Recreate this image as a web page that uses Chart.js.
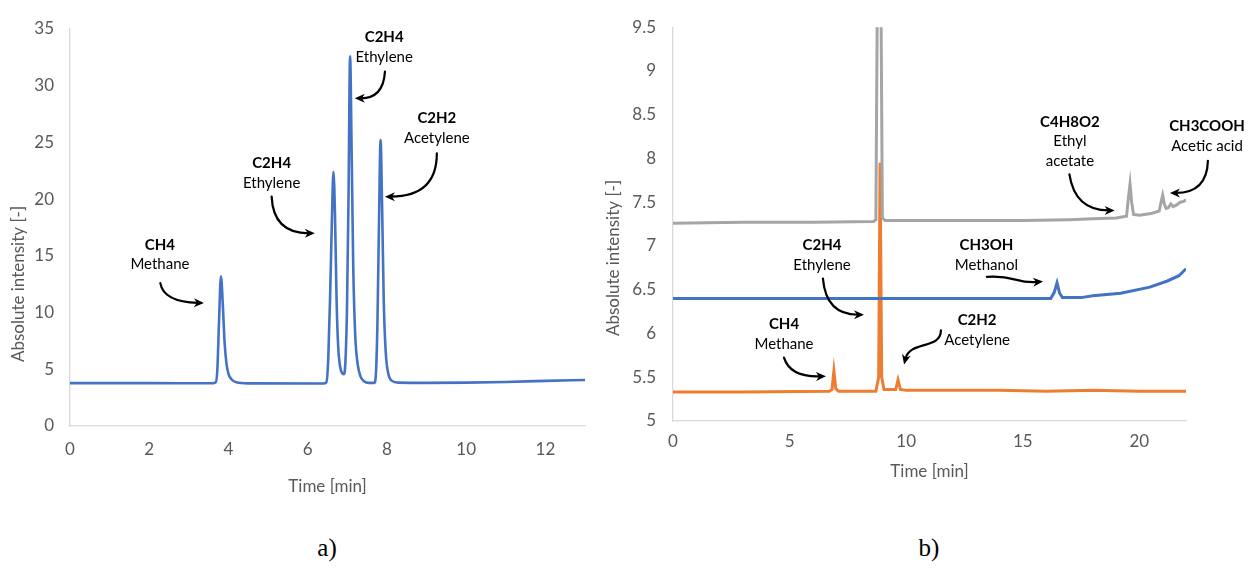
<!DOCTYPE html>
<html>
<head>
<meta charset="utf-8">
<script src="https://cdn.jsdelivr.net/npm/chart.js@4"></script>
<style>
  body { margin: 0; background: #fff; width: 1249px; height: 570px; position: relative; overflow: hidden; }
  canvas { position: absolute; top: 0; }
  #chartA { left: 0; }
  #chartB { left: 600px; }
  .cap { position: absolute; top: 534px; font-family: "Liberation Serif", serif; font-size: 25px; transform: translateX(-50%); color: #000; }
</style>
</head>
<body>
<canvas id="chartA" width="600" height="500"></canvas>
<canvas id="chartB" width="649" height="500"></canvas>
<div class="cap" style="left:327px">a)</div>
<div class="cap" style="left:929px">b)</div>
<script>
// panel a) - gas sample, time [min] vs intensity
const timeA = [0, 2, 3.6, 3.68, 3.72, 3.76, 3.81, 3.86, 3.9, 3.95, 4.0, 4.08, 4.2, 4.5,
  6.4, 6.47, 6.52, 6.57, 6.61, 6.65, 6.69, 6.73, 6.77, 6.82, 6.87, 6.91, 6.95, 6.99, 7.03, 7.07,
  7.11, 7.15, 7.2, 7.26, 7.33, 7.42, 7.55, 7.68, 7.72, 7.76, 7.8, 7.84, 7.88, 7.92, 7.97, 8.03,
  8.12, 8.3, 9, 10, 11, 12, 13];
const intensityA = [3.78, 3.78, 3.77, 3.85, 5, 9, 13.2, 10.5, 7.5, 5.5, 4.6, 4.1, 3.85, 3.76,
  3.75, 3.85, 6, 12, 18, 22.4, 18.5, 11, 7, 5.2, 4.65, 4.56, 5.5, 10, 20, 32.6,
  24, 14, 8, 5.5, 4.4, 3.95, 3.8, 3.8, 4.5, 9, 18, 25.2, 19, 11, 6.5, 4.7,
  4.0, 3.82, 3.8, 3.82, 3.88, 3.98, 4.05];
const xTicksA = [0, 2, 4, 6, 8, 10, 12];
const yTicksA = [0, 5, 10, 15, 20, 25, 30, 35];

// panel b) - three runs
const timeGray = [0, 3, 6, 8.6, 8.7, 8.84, 8.98, 9.1, 12, 15, 17, 18, 19, 19.45, 19.53, 19.6,
  19.67, 19.75, 20.0, 20.5, 20.85, 20.93, 21.0, 21.07, 21.15, 21.25, 21.35, 21.45, 21.6, 21.75, 21.9, 22];
const grayVals = [7.26, 7.27, 7.27, 7.28, 7.3, 13, 7.32, 7.29, 7.29, 7.29, 7.3, 7.31, 7.32, 7.34, 7.55, 7.71,
  7.5, 7.36, 7.35, 7.37, 7.4, 7.5, 7.58, 7.48, 7.43, 7.44, 7.48, 7.45, 7.47, 7.5, 7.51, 7.53];

const timeBlue = [0, 4, 8, 12, 16.2, 16.35, 16.47, 16.58, 16.7, 17.5, 18, 19.2, 20.45, 21.2, 21.7, 22];
const blueVals = [6.4, 6.4, 6.4, 6.4, 6.4, 6.47, 6.58, 6.46, 6.41, 6.41, 6.43, 6.46, 6.53, 6.6, 6.66, 6.74];

const timeOrange = [0, 3, 6.7, 6.82, 6.9, 6.98, 7.1, 8.7, 8.82, 8.88, 8.95, 9.05, 9.55, 9.65, 9.75,
  10, 12, 14, 16, 18, 20, 22];
const orangeVals = [5.33, 5.33, 5.34, 5.36, 5.57, 5.37, 5.34, 5.34, 5.5, 7.95, 5.5, 5.36, 5.36, 5.47, 5.36,
  5.35, 5.35, 5.35, 5.34, 5.35, 5.34, 5.34];
const xTicksB = [0, 5, 10, 15, 20];
const yTicksB = [5, 5.5, 6, 6.5, 7, 7.5, 8, 8.5, 9, 9.5];

// peak labels and arrows, in data units
const notesA = [
  { x: 2.27, y: 15.96, formula: "CH4", name: ["Methane"] },
  { x: 5.09, y: 23.16, formula: "C2H4", name: ["Ethylene"] },
  { x: 7.93, y: 34.27, formula: "C2H4", name: ["Ethylene"] },
  { x: 9.26, y: 27.13, formula: "C2H2", name: ["Acetylene"] }
];
const arrowsA = [
  [[2.28, 12.6], [2.36, 10.95], [3.38, 10.84]],
  [[5.09, 20.22], [5.13, 16.99], [6.18, 16.99]],
  [[7.95, 31.24], [7.91, 28.89], [7.19, 28.89]],
  [[9.26, 24.04], [9.26, 20.22], [7.95, 20.22]]
];
const notesB = [
  { x: 4.76, y: 6.103, formula: "CH4", name: ["Methane"] },
  { x: 6.39, y: 7.005, formula: "C2H4", name: ["Ethylene"] },
  { x: 13.04, y: 6.147, formula: "C2H2", name: ["Acetylene"] },
  { x: 13.44, y: 7.005, formula: "CH3OH", name: ["Methanol"] },
  { x: 17.02, y: 8.42, formula: "C4H8O2", name: ["Ethyl", "acetate"] },
  { x: 22.9, y: 8.364, formula: "CH3COOH", name: ["Acetic acid"] }
];
const arrowsB = [
  [[4.76, 5.724], [5.02, 5.5], [6.56, 5.512]],
  [[6.43, 6.626], [6.56, 6.214], [8.19, 6.214]],
  [[11.49, 6.036], [11.49, 5.813], [10.16, 5.924], [9.91, 5.646]],
  [[13.46, 6.648], [14.67, 6.671], [14.67, 6.57], [15.87, 6.593]],
  [[17.0, 7.818], [17.24, 7.406], [18.94, 7.406]],
  [[22.94, 7.974], [22.9, 7.606], [21.31, 7.606]]
];

Chart.defaults.font.family = "Lato";

const toPoints = (xs, ys) => xs.map((t, i) => ({ x: t, y: ys[i] }));

const peakNotes = {
  id: "peakNotes",
  afterDatasetsDraw(chart, args, opts) {
    const ctx = chart.ctx;
    const xs = chart.scales.x, ys = chart.scales.y;
    const px = (p) => [xs.getPixelForValue(p[0]), ys.getPixelForValue(p[1])];
    ctx.save();
    ctx.fillStyle = "#000";
    ctx.textAlign = "center";
    ctx.textBaseline = "middle";
    (opts.notes || []).forEach((n) => {
      const x = xs.getPixelForValue(n.x);
      const y = ys.getPixelForValue(n.y);
      ctx.font = "bold 15px Lato";
      ctx.fillText(n.formula, x, y);
      ctx.font = "15px Lato";
      n.name.forEach((line, i) => ctx.fillText(line, x, y + 19.5 * (i + 1)));
    });
    ctx.strokeStyle = "#000";
    ctx.lineWidth = 2.2;
    ctx.lineCap = "round";
    (opts.arrows || []).forEach((a) => {
      const p = a.map(px);
      const end = p[p.length - 1];
      const prev = p[p.length - 2];
      const ang = Math.atan2(end[1] - prev[1], end[0] - prev[0]);
      const back = [end[0] - 6 * Math.cos(ang), end[1] - 6 * Math.sin(ang)];
      ctx.beginPath();
      ctx.moveTo(p[0][0], p[0][1]);
      if (p.length === 4) ctx.bezierCurveTo(p[1][0], p[1][1], p[2][0], p[2][1], back[0], back[1]);
      else ctx.quadraticCurveTo(p[1][0], p[1][1], back[0], back[1]);
      ctx.stroke();
      ctx.beginPath();
      ctx.moveTo(end[0], end[1]);
      ctx.lineTo(end[0] - 10 * Math.cos(ang) + 4.5 * Math.sin(ang), end[1] - 10 * Math.sin(ang) - 4.5 * Math.cos(ang));
      ctx.lineTo(end[0] - 7 * Math.cos(ang), end[1] - 7 * Math.sin(ang));
      ctx.lineTo(end[0] - 10 * Math.cos(ang) - 4.5 * Math.sin(ang), end[1] - 10 * Math.sin(ang) + 4.5 * Math.cos(ang));
      ctx.closePath();
      ctx.fill();
    });
    // axis titles
    const t = opts.titles;
    ctx.fillStyle = "#595959";
    ctx.font = "17px Lato";
    ctx.fillText("Time [min]", (chart.chartArea.left + chart.chartArea.right) / 2, t.xTitleY);
    ctx.translate(t.yTitleX, t.yTitleY);
    ctx.rotate(-Math.PI / 2);
    ctx.fillText("Absolute intensity [-]", 0, 0);
    ctx.restore();
  }
};

function axes(xMin, xMax, xTicks, yMin, yMax, yTicks, yWidth, xHeight, yPad, xPad) {
  const common = {
    type: "linear",
    grid: { display: false, drawTicks: false },
    border: { display: true, color: "#d9d9d9", width: 1.3 }
  };
  return {
    x: Object.assign({}, common, {
      min: xMin, max: xMax,
      afterBuildTicks: (s) => { s.ticks = xTicks.map((v) => ({ value: v })); },
      afterFit: (s) => { s.height = xHeight; },
      ticks: { color: "#595959", font: { size: 17 }, padding: xPad, maxRotation: 0, autoSkip: false, callback: (v) => String(v) }
    }),
    y: Object.assign({}, common, {
      min: yMin, max: yMax,
      afterBuildTicks: (s) => { s.ticks = yTicks.map((v) => ({ value: v })); },
      afterFit: (s) => { s.width = yWidth; },
      ticks: { color: "#595959", font: { size: 17 }, padding: yPad, autoSkip: false, callback: (v) => String(v) }
    })
  };
}

new Chart(document.getElementById("chartA"), {
  type: "line",
  data: {
    datasets: [
      {
        data: toPoints(timeA, intensityA),
        borderColor: "#4472C4",
        borderWidth: 2.6,
        pointRadius: 0,
        cubicInterpolationMode: "monotone",
        fill: false
      }
    ]
  },
  options: {
    responsive: false,
    animation: false,
    events: [],
    layout: { padding: { top: 29, right: 15, left: 0, bottom: 0 } },
    scales: axes(0, 13, xTicksA, 0, 35, yTicksA, 70, 74, 16, 13),
    plugins: {
      legend: { display: false },
      tooltip: { enabled: false },
      peakNotes: { notes: notesA, arrows: arrowsA, titles: { xTitleY: 487, yTitleX: 19, yTitleY: 284 } }
    }
  },
  plugins: [peakNotes]
});

new Chart(document.getElementById("chartB"), {
  type: "line",
  data: {
    datasets: [
      { data: toPoints(timeGray, grayVals), borderColor: "#A5A5A5", borderWidth: 3, pointRadius: 0, tension: 0 },
      { data: toPoints(timeBlue, blueVals), borderColor: "#4472C4", borderWidth: 3, pointRadius: 0, tension: 0 },
      { data: toPoints(timeOrange, orangeVals), borderColor: "#ED7D31", borderWidth: 3, pointRadius: 0, tension: 0 }
    ]
  },
  options: {
    responsive: false,
    animation: false,
    events: [],
    layout: { padding: { top: 18, right: 63, left: 0, bottom: 0 } },
    scales: axes(0, 22, xTicksB, 5, 9.5, yTicksB, 73, 79, 17, 10),
    plugins: {
      legend: { display: false },
      tooltip: { enabled: false },
      peakNotes: { notes: notesB, arrows: arrowsB, titles: { xTitleY: 472, yTitleX: 14, yTitleY: 258 } }
    }
  },
  plugins: [peakNotes]
});
</script>
</body>
</html>
